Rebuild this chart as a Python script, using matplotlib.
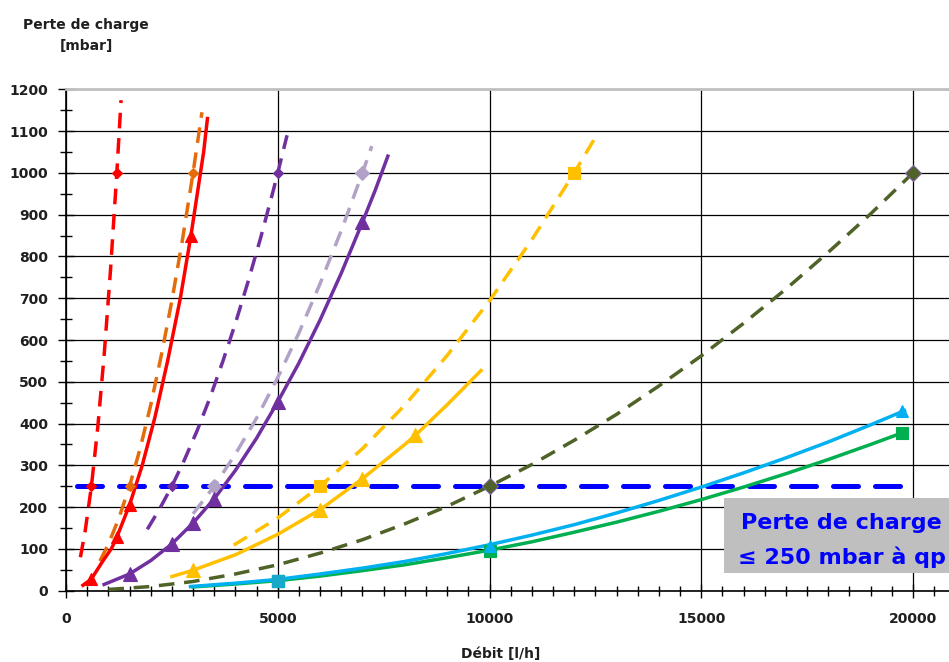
import matplotlib
matplotlib.use('Agg')
import matplotlib.pyplot as plt
from matplotlib.patches import Rectangle
from matplotlib.ticker import MultipleLocator

# red dashed (diamonds)
red_dash_q = [340, 450, 600, 750, 900, 1050, 1200, 1300]
red_dash_p = [80, 141, 250, 391, 563, 766, 1000, 1174]
red_dash_mq = [600, 1200]
red_dash_mp = [250, 1000]

# orange dashed (diamonds)
orange_q = [800, 1000, 1250, 1500, 1750, 2000, 2250, 2500, 2750, 3000, 3210]
orange_p = [71, 111, 174, 250, 340, 444, 563, 694, 840, 1000, 1145]
orange_mq = [1500, 3000]
orange_mp = [250, 1000]

# red solid (triangles)
red_q = [400, 600, 850, 1080, 1200, 1500, 1800, 2100, 2400, 2700, 2950, 3100, 3250, 3340]
red_p = [13, 28, 68, 102, 128, 205, 300, 415, 550, 700, 850, 950, 1050, 1130]
red_mq = [600, 1200, 1500, 2950]
red_mp = [28, 128, 205, 850]

# purple dashed (diamonds)
purple_dash_q = [1920, 2200, 2500, 2800, 3100, 3400, 3700, 4000, 4300, 4600, 4900, 5000, 5220]
purple_dash_p = [147, 194, 250, 314, 384, 462, 548, 640, 740, 846, 960, 1000, 1090]
purple_dash_mq = [2500, 5000]
purple_dash_mp = [250, 1000]

# lavender dashed (diamonds)
lav_q = [3000, 3500, 4000, 4500, 5000, 5500, 6000, 6500, 7000, 7220]
lav_p = [184, 250, 327, 413, 510, 617, 735, 862, 1000, 1064]
lav_mq = [3500, 7000]
lav_mp = [250, 1000]

# purple solid (triangles)
purple_q = [900, 1500, 2000, 2500, 3000, 3500, 4000, 4500, 5000, 5500, 6000, 6500, 7000, 7300, 7600]
purple_p = [15, 40, 72, 112, 162, 220, 288, 365, 452, 545, 648, 760, 882, 958, 1040]
purple_mq = [1500, 2500, 3000, 3500, 5000, 7000]
purple_mp = [40, 112, 162, 220, 452, 882]

# yellow dashed (squares)
ydash_q = [3960, 5000, 6000, 7000, 8000, 9000, 10000, 11000, 12000, 12530]
ydash_p = [109, 174, 250, 340, 444, 563, 694, 840, 1000, 1090]
ydash_mq = [6000, 12000]
ydash_mp = [250, 1000]

# yellow solid (triangles)
yellow_q = [2500, 3000, 4000, 5000, 6000, 7000, 8000, 8250, 9000, 9800]
yellow_p = [34, 49, 86, 135, 194, 268, 350, 372, 445, 527]
yellow_mq = [3000, 6000, 7000, 8250]
yellow_mp = [49, 194, 268, 372]

# olive dashed (diamonds)
olive_q = [1000, 2000, 3000, 4000, 5000, 6000, 7000, 8000, 9000, 10000,
           11000, 12000, 13000, 14000, 15000, 16000, 17000, 18000, 19000, 20000]
olive_p = [3, 10, 22, 40, 62, 90, 122, 160, 202, 250,
           302, 360, 422, 490, 562, 640, 722, 810, 902, 1000]
olive_mq = [10000, 20000]
olive_mp = [250, 1000]

# green solid (squares)
green_q = [3000, 4000, 5000, 6000, 7000, 8000, 9000, 10000, 11000, 12000,
           13000, 14000, 15000, 16000, 17000, 18000, 19000, 19750]
green_p = [9, 16, 24, 35, 48, 62, 79, 97, 117, 140,
           164, 190, 218, 248, 280, 314, 350, 378]
green_mq = [5000, 10000, 19750]
green_mp = [24, 95, 378]

# cyan solid (triangles)
cyan_q = [2940, 4000, 5000, 6000, 7000, 8000, 9000, 10000, 11000, 12000,
          13000, 14000, 15000, 16000, 17000, 18000, 19000, 19800]
cyan_p = [10, 18, 27, 40, 54, 70, 89, 110, 133, 158,
          186, 216, 248, 282, 318, 356, 397, 431]
cyan_mq = [10000, 19750]
cyan_mp = [108, 429]

# limit line
limit_q = [260, 20100]
limit_p = [250, 250]

TXT = '#1F1F1F'
DASH = (0, (4.5, 2.8))

fig = plt.figure(figsize=(9.49, 6.62), dpi=100)
ax = fig.add_axes([66 / 949, 1 - 590.7 / 662, 883 / 949, 501.4 / 662])
ax.set_xlim(0, 20850)
ax.set_ylim(0, 1200)

ax.plot(limit_q, limit_p, color='#0000FF', lw=3.6, linestyle=(0, (5, 3.4)),
        dash_capstyle='round', zorder=2)

series = [
    (red_dash_q, red_dash_p, red_dash_mq, red_dash_mp, '#FF0000', DASH, 'D', 5.5),
    (orange_q, orange_p, orange_mq, orange_mp, '#E46C0A', DASH, 'D', 5.5),
    (red_q, red_p, red_mq, red_mp, '#FF0000', '-', '^', 8),
    (purple_dash_q, purple_dash_p, purple_dash_mq, purple_dash_mp, '#7030A0', DASH, 'D', 5.5),
    (lav_q, lav_p, lav_mq, lav_mp, '#B3A2C7', DASH, 'D', 7),
    (purple_q, purple_p, purple_mq, purple_mp, '#7030A0', '-', '^', 10),
    (ydash_q, ydash_p, ydash_mq, ydash_mp, '#FFC000', DASH, 's', 9),
    (yellow_q, yellow_p, yellow_mq, yellow_mp, '#FFC000', '-', '^', 10),
    (olive_q, olive_p, olive_mq, olive_mp, '#4F6228', DASH, 'D', 8),
    (green_q, green_p, green_mq, green_mp, '#00B050', '-', 's', 9),
    (cyan_q, cyan_p, cyan_mq, cyan_mp, '#00B0F0', '-', '^', 9),
]
for q, p, mq, mp, col, ls, mk, ms in series:
    ax.plot(q, p, color=col, lw=2.5, linestyle=ls, zorder=3)
    edge = '#8064A2' if col == '#4F6228' else col
    ax.plot(mq, mp, linestyle='none', marker=mk, ms=ms, color=col,
            markeredgecolor=edge, markeredgewidth=0.8, zorder=4)

# cyan square under the 5000 point
ax.plot([5000], [24], linestyle='none', marker='s', ms=9, color='#17A9C9', zorder=4)

# note box
ax.add_patch(Rectangle((15540, 42), 6000, 180, facecolor='#BFBFBF',
                       edgecolor='none', zorder=3))
ax.text(18320, 162, 'Perte de charge', ha='center', va='center', fontsize=16,
        fontweight='bold', color='#0000FF', zorder=5)
ax.text(18320, 81, '\u2264 250 mbar \u00e0 qp', ha='center', va='center', fontsize=16,
        fontweight='bold', color='#0000FF', zorder=5)

ax.xaxis.set_major_locator(MultipleLocator(5000))
ax.xaxis.set_minor_locator(MultipleLocator(500))
ax.yaxis.set_major_locator(MultipleLocator(100))
ax.yaxis.set_minor_locator(MultipleLocator(50))
ax.ticklabel_format(style='plain', useOffset=False)

ax.tick_params(axis='x', which='major', direction='inout', length=9.4, width=1,
               pad=10.4, labelsize=10, labelcolor=TXT)
ax.tick_params(axis='x', which='minor', direction='inout', length=7, width=1)
ax.tick_params(axis='y', which='major', direction='inout', length=11.5, width=1,
               pad=7.2, labelsize=10, labelcolor=TXT)
ax.tick_params(axis='y', which='minor', direction='inout', length=8.6, width=1)
for lab in ax.get_xticklabels() + ax.get_yticklabels():
    lab.set_fontweight('bold')

ax.grid(True, which='major', color='black', lw=0.9)
ax.set_axisbelow(True)

ax.spines['top'].set_color('#C0C0C0')
ax.spines['top'].set_linewidth(2)
ax.spines['right'].set_visible(False)
ax.spines['left'].set_linewidth(1.2)
ax.spines['bottom'].set_linewidth(1.2)

fig.text(86 / 949, 1 - 24.5 / 662, 'Perte de charge', ha='center', va='center',
         fontsize=10, fontweight='bold', color=TXT)
fig.text(86 / 949, 1 - 46.5 / 662, '[mbar]', ha='center', va='center',
         fontsize=10, fontweight='bold', color=TXT)
fig.text(501 / 949, 1 - 654 / 662, 'D\u00e9bit [l/h]', ha='center', va='center',
         fontsize=10, fontweight='bold', color=TXT)

fig.savefig('out.png', dpi=100)
